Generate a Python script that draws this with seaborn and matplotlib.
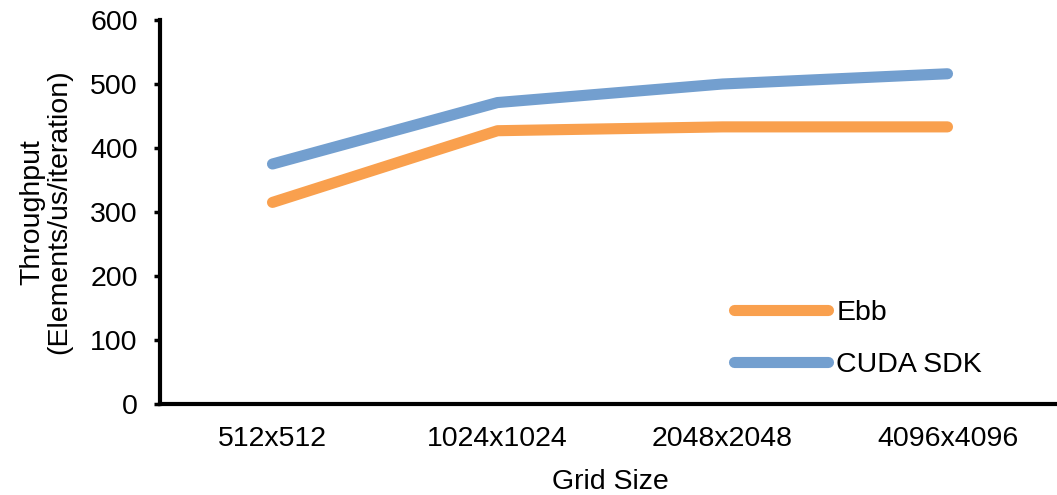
import pandas as pd
import matplotlib
matplotlib.use("Agg")
import matplotlib.pyplot as plt
import seaborn as sns

grid_sizes = ["512x512", "1024x1024", "2048x2048", "4096x4096"]
ebb = [315, 427, 433, 433]
cuda_sdk = [375, 471, 500, 516]

sns.set_style("white")
plt.rcParams['font.family'] = ['Liberation Sans', 'DejaVu Sans']
plt.rcParams['text.color'] = 'black'
plt.rcParams['axes.labelcolor'] = 'black'
plt.rcParams['xtick.color'] = 'black'
plt.rcParams['ytick.color'] = 'black'

fig = plt.figure(figsize=(10.57, 4.95), dpi=100)
# axes placed by hand: left spine at x=160px, bottom at y=404px
ax = fig.add_axes([160 / 1057, (495 - 404) / 495, 900 / 1057, 384 / 495])

df = pd.DataFrame({"Grid Size": grid_sizes, "Ebb": ebb, "CUDA SDK": cuda_sdk})

sns.lineplot(data=df, x="Grid Size", y="Ebb", label="Ebb", color="#F9A04E",
             lw=8, solid_capstyle="round", ax=ax)
sns.lineplot(data=df, x="Grid Size", y="CUDA SDK", label="CUDA SDK", color="#739FCF",
             lw=8, solid_capstyle="round", ax=ax)

ax.set_xlim(-0.5, 3.5)
ax.set_ylim(0, 600)
ax.set_yticks(range(0, 601, 100))

for s in ["top", "right"]:
    ax.spines[s].set_visible(False)
for s in ["left", "bottom"]:
    ax.spines[s].set_linewidth(3)
    ax.spines[s].set_color("black")

ax.tick_params(axis="y", length=4, width=2.5, direction="out", left=True,
               labelsize=20.5, pad=12)
ax.tick_params(axis="x", length=0, labelsize=20.5, pad=16)

ax.set_xlabel("Grid Size", fontsize=20.5, labelpad=12)
ax.set_ylabel("Throughput\n(Elements/us/iteration)", fontsize=20.5, labelpad=13,
              linespacing=1.05)

ax.legend(loc="upper left", bbox_to_anchor=(0.625, 0.30), frameon=False,
          fontsize=20.5, handlelength=3.3, handletextpad=0.3, labelspacing=0.9,
          borderaxespad=0)

fig.savefig("out.png", dpi=100)
